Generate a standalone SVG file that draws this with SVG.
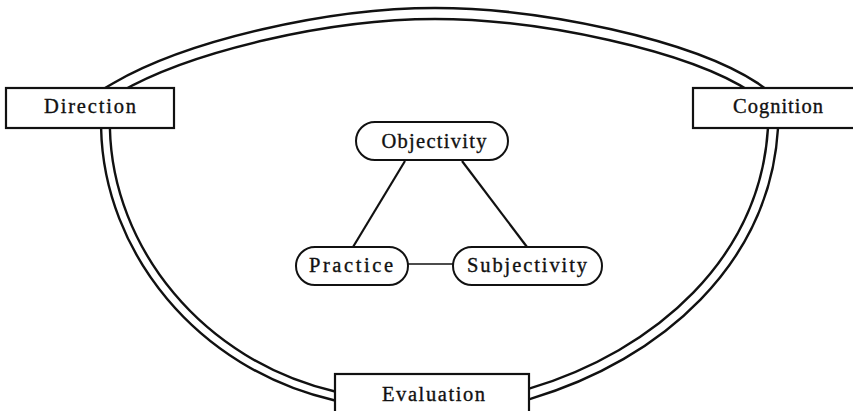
<svg xmlns="http://www.w3.org/2000/svg" width="853" height="411" viewBox="0 0 853 411">
  <style>
    .bg { fill: #ffffff; }
    .box { fill: #ffffff; stroke: #111111; stroke-width: 2.2; }
    .pill { fill: #ffffff; stroke: #111111; stroke-width: 2; }
    .label { font-family: "Liberation Serif", "DejaVu Serif", serif; font-size: 20.5px; fill: #111111; stroke: #111111; stroke-width: 0.35; text-anchor: middle; }
    .link { fill: none; stroke: #111111; stroke-width: 2.2; }
    .link-thin { fill: none; stroke: #111111; stroke-width: 1.6; }
    .rail-outer { fill: none; stroke: #111111; stroke-linecap: butt; }
    .rail-inner { fill: none; stroke: #ffffff; stroke-linecap: butt; }
  </style>

  <rect class="bg" x="0" y="0" width="853" height="411"/>

  <!-- Connectors: double-rail loop between the outer boxes, and the inner triangle -->
  <g id="connectors">
    <!-- top rail: Direction to Cognition -->
    <path id="rail-top" class="rail-outer" stroke-width="13.6" d="M104,95 L116,88 C190,45 330,13.5 435,13.5 C540,13.5 690,45 755,88 L766,96"/>
    <path class="rail-inner" stroke-width="8.6" d="M104,95 L116,88 C190,45 330,13.5 435,13.5 C540,13.5 690,45 755,88 L766,96"/>
    <!-- left rail: Direction to Evaluation -->
    <path id="rail-left" class="rail-outer" stroke-width="11.2" d="M105.5,120 L105.5,128 C108,250 200,365 335,396 L345,398"/>
    <path class="rail-inner" stroke-width="6.4" d="M105.5,120 L105.5,128 C108,250 200,365 335,396 L345,398"/>
    <!-- right rail: Evaluation to Cognition -->
    <path id="rail-right" class="rail-outer" stroke-width="12.4" d="M519,397 L529,394 C660,355 765,260 773,128 L773.5,120"/>
    <path class="rail-inner" stroke-width="7.6" d="M519,397 L529,394 C660,355 765,260 773,128 L773.5,120"/>

    <!-- inner triangle -->
    <line class="link" x1="405" y1="161" x2="353" y2="247"/>
    <line class="link" x1="462" y1="161" x2="527" y2="247"/>
    <line class="link-thin" x1="408" y1="264" x2="453" y2="264"/>
  </g>

  <!-- Outer boxes -->
  <g id="node-direction">
    <rect class="box" x="6" y="88" width="168" height="40"/>
    <text class="label" x="90" y="112.5" textLength="92" lengthAdjust="spacing">Direction</text>
  </g>
  <g id="node-cognition">
    <rect class="box" x="693" y="88" width="200" height="40"/>
    <text class="label" x="778" y="113" textLength="90" lengthAdjust="spacing">Cognition</text>
  </g>
  <g id="node-evaluation">
    <rect class="box" x="335" y="374" width="194" height="60"/>
    <text class="label" x="433.5" y="400.5" textLength="103" lengthAdjust="spacing">Evaluation</text>
  </g>

  <!-- Inner rounded nodes -->
  <g id="node-objectivity">
    <rect class="pill" x="356" y="122" width="152" height="38" rx="19" ry="19"/>
    <text class="label" x="434" y="147.5" textLength="105" lengthAdjust="spacing">Objectivity</text>
  </g>
  <g id="node-practice">
    <rect class="pill" x="296" y="247" width="112" height="38" rx="19" ry="19"/>
    <text class="label" x="351" y="272" textLength="84" lengthAdjust="spacing">Practice</text>
  </g>
  <g id="node-subjectivity">
    <rect class="pill" x="453" y="247" width="149" height="38" rx="19" ry="19"/>
    <text class="label" x="527" y="272" textLength="120" lengthAdjust="spacing">Subjectivity</text>
  </g>
</svg>
